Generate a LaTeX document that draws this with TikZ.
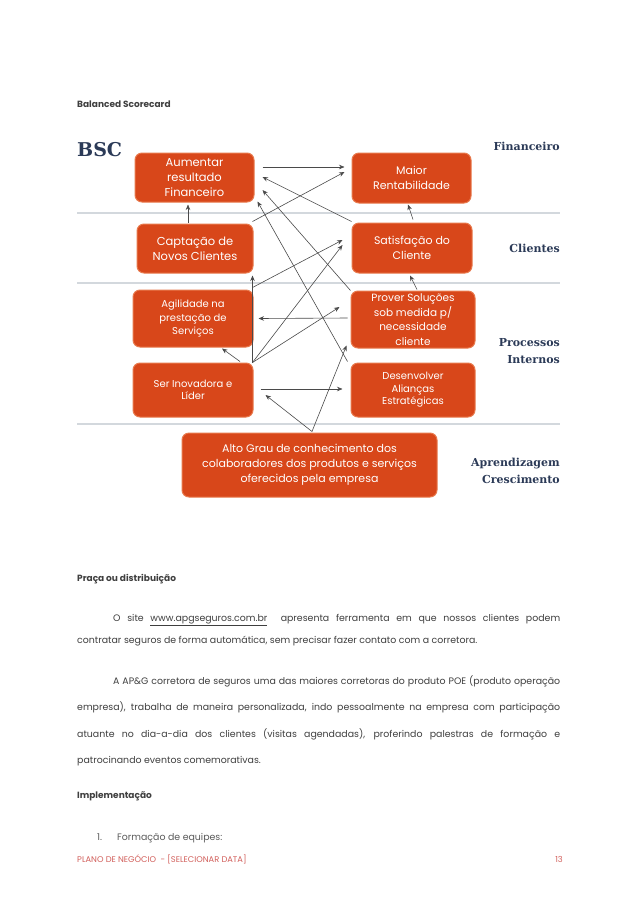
\documentclass[tikz,border=0pt]{standalone}
\usepackage{fontspec}
\setmainfont{Poppins}
\newfontfamily\labelfont{DejaVu Serif}
\usepackage{xcolor}
\usetikzlibrary{arrows.meta,calc}
\definecolor{BscOrange}{HTML}{D8471A}
\definecolor{BscRim}{HTML}{E8794C}
\definecolor{BscNavy}{HTML}{2B3A57}
\definecolor{BscRule}{HTML}{D3D8DD}
\definecolor{BscArrow}{HTML}{4A4A4A}
\definecolor{PageText}{HTML}{3F3F3F}
\definecolor{PageSoft}{HTML}{5A5A5A}
\definecolor{FootRed}{HTML}{D2605C}

\begin{document}
\begin{tikzpicture}[x=1pt, y=-1pt,
    bscbox/.style={draw=BscRim, line width=1pt, fill=BscOrange, rounded corners=7pt, text=white, align=center, inner sep=0pt},
    arr/.style={-{Stealth[length=5.5pt,width=4.5pt]}, draw=BscArrow, line width=0.6pt},
    sepline/.style={draw=BscRule, line width=1.2pt},
    perlabel/.style={font=\labelfont\bfseries\fontsize{11}{17}\selectfont, text=BscNavy, align=right, anchor=east, inner sep=0pt},
    pagetext/.style={anchor=base west, inner sep=0pt, text=PageText, font=\fontsize{9.4}{12}\selectfont},
    pagehead/.style={pagetext, font=\bfseries\fontsize{9}{11}\selectfont}]
  \useasboundingbox[fill=white] (0,0) rectangle (638,903);

  % page text above the chart
  \node[pagehead] (title) at (77,107) {Balanced Scorecard};

  % perspective rules
  \draw[sepline] (77,213) -- (560,213);
  \draw[sepline] (77,283) -- (560,283);
  \draw[sepline] (77,424) -- (560,424);

  \node[font=\labelfont\bfseries\fontsize{19}{20}\selectfont, text=BscNavy, anchor=west, inner sep=0pt] (bsc) at (77,150) {BSC};
  \node[perlabel] (fin) at (560,146) {Financeiro};
  \node[perlabel] (cli) at (560,248) {Clientes};
  \node[perlabel] (proc) at (560,351) {Processos\\Internos};
  \node[perlabel] (apr) at (560,471) {Aprendizagem\\Crescimento};

  % objectives
  \node[bscbox, minimum width=119, minimum height=49, font=\fontsize{11.5}{15}\selectfont] (aum) at (194.5,177.5) {Aumentar\\resultado\\Financeiro};
  \node[bscbox, minimum width=116, minimum height=49, font=\fontsize{11.5}{15}\selectfont] (cap) at (195,248.5) {Captação de\\Novos Clientes};
  \node[bscbox, minimum width=120, minimum height=57, font=\fontsize{10}{13.3}\selectfont] (agi) at (193,318.5) {Agilidade na\\prestação de\\Serviços};
  \node[bscbox, minimum width=120, minimum height=54, font=\fontsize{10}{12.5}\selectfont] (ser) at (193,390) {Ser Inovadora e\\Líder};
  \node[bscbox, minimum width=119, minimum height=50, font=\fontsize{11}{15}\selectfont] (mai) at (411.5,178) {Maior\\Rentabilidade};
  \node[bscbox, minimum width=120, minimum height=50, font=\fontsize{11}{15}\selectfont] (sat) at (412,248) {Satisfação do\\Cliente};
  \node[bscbox, minimum width=124, minimum height=57, font=\fontsize{10.5}{14.5}\selectfont] (pro) at (413,319.5) {Prover Soluções\\sob medida p/\\necessidade\\cliente};
  \node[bscbox, minimum width=124, minimum height=54, font=\fontsize{10}{12.5}\selectfont] (des) at (413,390) {Desenvolver\\Alianças\\Estratégicas};
  \node[bscbox, minimum width=255, minimum height=64, font=\fontsize{11}{15}\selectfont] (alto) at (309.5,465) {Alto Grau de conhecimento dos\\colaboradores dos produtos e serviços\\oferecidos pela empresa};

  % cause and effect links
  \draw[arr] ($(aum.east)+(8,-10.5)$) -- ($(mai.west)+(-7,-11)$);
  \draw[arr] ($(cap.north east)+(-1,-2)$) -- ($(mai.west)+(-7,-6)$);
  \draw[arr] ($(sat.north west)+(0,-1)$) -- ($(aum.east)+(8,-0.5)$);
  \draw[arr] (pro.north west) -- ($(aum.east)+(8,12.5)$);
  \draw[arr] ($(des.north west)+(-3,-1)$) -- ($(aum.south east)+(3,-1)$);
  \draw[arr] ($(cap.north)+(-7,-1)$) -- ($(aum.south)+(-6.5,2)$);
  \draw[arr] ($(agi.north east)+(-1,-2)$) -- ($(sat.west)+(-9,-8)$);
  \draw[arr] ($(ser.north east)+(-1,0)$) -- ($(sat.west)+(-9,-3)$);
  \draw[arr] ($(ser.north east)+(-1,0)$) -- ($(cap.south east)+(-1,2)$);
  \draw[arr] ($(sat.north)+(1,-3)$) -- ($(mai.south)+(-3.5,1)$);
  \draw[arr] ($(pro.north)+(4,-1)$) -- ($(sat.south)+(-2,2)$);
  \draw[arr] ($(pro.west)+(-3,-1.5)$) -- ($(agi.east)+(5,0)$);
  \draw[arr] ($(ser.north)+(47,-1)$) -- ($(agi.south)+(29,1)$);
  \draw[arr] ($(ser.north east)+(-1,0)$) -- ($(pro.west)+(-11,-12.5)$);
  \draw[arr] ($(ser.east)+(7,-1)$) -- ($(des.west)+(-8,-1)$);
  \draw[arr] ($(alto.north)+(2.5,-1)$) -- ($(ser.east)+(12,5)$);
  \draw[arr] ($(alto.north)+(2.5,-1)$) -- ($(pro.south west)+(-4,-3)$);

  % page text below the chart
  \node[pagehead] (praca) at (77,581) {Praça ou distribuição};
  \node[pagetext] (lnA) at (113,621) {\makebox[447pt][s]{O site \underline{www.apgseguros.com.br}\ \ apresenta ferramenta em que nossos clientes podem}};
  \node[pagetext] (lnB) at (77,643) {contratar seguros de forma automática, sem precisar fazer contato com a corretora.};
  \node[pagetext] (lnC) at (113,684) {\makebox[447pt][s]{A AP\&G corretora de seguros uma das maiores corretoras do produto POE (produto operação}};
  \node[pagetext] (lnD) at (77,710) {\makebox[483pt][s]{empresa), trabalha de maneira personalizada, indo pessoalmente na empresa com participação}};
  \node[pagetext] (lnE) at (77,737) {\makebox[483pt][s]{atuante no dia-a-dia dos clientes (visitas agendadas), proferindo palestras de formação e}};
  \node[pagetext] (lnF) at (77,763) {patrocinando eventos comemorativas.};
  \node[pagehead] (impl) at (77,798) {Implementação};
  \node[pagetext, text=PageSoft] (itemnum) at (97,840) {1.};
  \node[pagetext, text=PageSoft] (itemtxt) at (117,840) {Formação de equipes:};
  \node[pagetext, text=FootRed, font=\fontsize{8.3}{10}\selectfont] (foot) at (77,862) {PLANO DE NEGÓCIO\ \ - [SELECIONAR DATA]};
  \node[pagetext, text=FootRed, font=\fontsize{8.3}{10}\selectfont, anchor=base east] (pnum) at (563,862) {13};
\end{tikzpicture}
\end{document}
